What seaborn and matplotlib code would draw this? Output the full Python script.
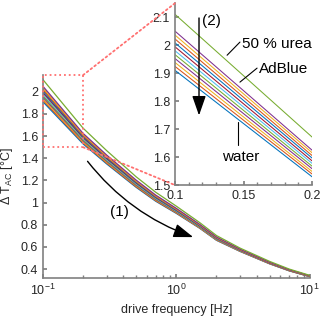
"""
Temperature amplitude vs. drive frequency for water / urea solutions, with zoomed inset.
"""

import pandas as pd
import seaborn as sns
import matplotlib.pyplot as plt
from matplotlib.patches import Rectangle, ConnectionPatch
from matplotlib.ticker import FormatStrFormatter, MultipleLocator

# drive frequencies [Hz]
freqs = [0.1, 0.2, 0.3, 0.5, 0.7, 1.0, 1.5, 2.0, 3.0, 5.0, 7.0, 10.0]

# delta T_AC [degC], one row per solution, water (bottom) first, 50 % urea last
dt_rows = [
    [1.910, 1.530, 1.350, 1.138, 1.013, 0.903, 0.768, 0.660, 0.560, 0.448, 0.385, 0.332],
    [1.924, 1.540, 1.358, 1.144, 1.018, 0.907, 0.771, 0.663, 0.562, 0.449, 0.386, 0.333],
    [1.938, 1.549, 1.366, 1.151, 1.024, 0.912, 0.774, 0.666, 0.564, 0.451, 0.387, 0.334],
    [1.952, 1.559, 1.374, 1.157, 1.029, 0.916, 0.778, 0.669, 0.566, 0.452, 0.388, 0.334],
    [1.966, 1.568, 1.382, 1.164, 1.035, 0.921, 0.781, 0.672, 0.568, 0.454, 0.389, 0.335],
    [1.980, 1.578, 1.390, 1.170, 1.040, 0.925, 0.785, 0.675, 0.570, 0.455, 0.390, 0.336],
    [1.994, 1.587, 1.398, 1.177, 1.046, 0.930, 0.789, 0.678, 0.572, 0.456, 0.391, 0.337],
    [2.008, 1.597, 1.406, 1.183, 1.051, 0.934, 0.792, 0.681, 0.574, 0.458, 0.392, 0.338],
    [2.022, 1.606, 1.414, 1.190, 1.057, 0.939, 0.796, 0.684, 0.576, 0.459, 0.393, 0.338],
    [2.036, 1.616, 1.422, 1.196, 1.062, 0.943, 0.799, 0.687, 0.578, 0.461, 0.394, 0.339],
    [2.050, 1.625, 1.430, 1.203, 1.068, 0.948, 0.803, 0.690, 0.580, 0.462, 0.395, 0.340],
    [2.110, 1.672, 1.470, 1.233, 1.094, 0.968, 0.819, 0.703, 0.590, 0.470, 0.401, 0.344],
]

matlab_colors = ["#0072BD", "#D95319", "#EDB120", "#7E2F8E", "#77AC30", "#4DBEEE", "#A2142F"]

main_yticks = [0.4, 0.6, 0.8, 1.0, 1.2, 1.4, 1.6, 1.8, 2.0]
inset_xticks = [0.1, 0.15, 0.2]
inset_yticks = [1.5, 1.6, 1.7, 1.8, 1.9, 2.0, 2.1]

records = []
for i, row in enumerate(dt_rows):
    for f, v in zip(freqs, row):
        records.append({"line": i, "freq": f, "dT": v})
df = pd.DataFrame(records)
palette = {i: matlab_colors[i % len(matlab_colors)] for i in range(len(dt_rows))}

sns.set_theme(style="ticks")
plt.rcParams["font.family"] = ["Liberation Sans", "DejaVu Sans"]
plt.rcParams["mathtext.fontset"] = "custom"
plt.rcParams["mathtext.rm"] = "Liberation Sans"

spine_col = "#808080"
text_col = "#262626"

fig = plt.figure(figsize=(3.2, 3.17), dpi=100)
ax = fig.add_axes([0.134, 0.123, 0.834, 0.640])
axin = fig.add_axes([0.547, 0.416, 0.428, 0.574])

for a, lw in ((ax, 0.9), (axin, 0.75)):
    sns.lineplot(data=df, x="freq", y="dT", hue="line", palette=palette, legend=False,
                 linewidth=lw, ax=a, estimator=None, sort=False)
    sns.despine(ax=a)
    for s in ("left", "bottom"):
        a.spines[s].set_color(spine_col)
        a.spines[s].set_linewidth(1.2)
    a.tick_params(which="both", direction="in", colors=spine_col, labelcolor=text_col, labelsize=9)
    a.tick_params(which="major", length=3)
    a.tick_params(which="minor", length=2)
    a.set_xlabel("")
    a.set_ylabel("")
    a.set_facecolor("white")

# main axes
ax.set_xscale("log")
ax.set_xlim(0.1, 10)
ax.set_ylim(0.32, 2.15)
ax.set_yticks(main_yticks)
ax.yaxis.set_major_formatter(FormatStrFormatter("%g"))
ax.set_xlabel("drive frequency [Hz]", fontsize=9, color=text_col)
ax.set_ylabel(r"$\Delta$ T$_\mathrm{AC}$ [°C]", fontsize=9, color=text_col)

# inset axes
axin.set_xlim(0.1, 0.2)
axin.set_ylim(1.5, 2.15)
axin.set_xticks(inset_xticks)
axin.set_yticks(inset_yticks)
axin.xaxis.set_minor_locator(MultipleLocator(0.01))
axin.xaxis.set_major_formatter(FormatStrFormatter("%g"))
axin.yaxis.set_major_formatter(FormatStrFormatter("%g"))

# zoom box and connectors
red = "#FF7070"
ax.add_patch(Rectangle((0.1, 1.5), 0.1, 0.65, fill=False, edgecolor=red,
                       linestyle=":", linewidth=1.3, clip_on=False, zorder=5))
for y_main, y_in in ((2.15, 1.0), (1.5, 0.0)):
    con = ConnectionPatch(xyA=(0.2, y_main), coordsA=ax.transData,
                          xyB=(0.0, y_in), coordsB=axin.transAxes,
                          color=red, linestyle=":", linewidth=1.3)
    fig.add_artist(con)

# arrow (1) in main axes
ax.annotate("", xy=(0.573, 0.197), xytext=(0.161, 0.586), xycoords="axes fraction",
            textcoords="axes fraction",
            arrowprops=dict(arrowstyle="-|>,head_length=1.0,head_width=0.35", color="black",
                            linewidth=1.0, connectionstyle="arc3,rad=0.15", mutation_scale=12))
ax.text(0.286, 0.325, "(1)", transform=ax.transAxes, fontsize=11, ha="center", va="center",
        color="black")

# arrow (2) in inset
axin.annotate("", xy=(0.1175, 1.739), xytext=(0.1175, 2.107),
              arrowprops=dict(arrowstyle="-|>,head_length=1.0,head_width=0.35", color="black",
                              linewidth=1.0, mutation_scale=12))
axin.text(0.1265, 2.085, "(2)", fontsize=11, ha="center", va="center", color="black")

# labels with leader lines
axin.plot([0.1380, 0.1474], [1.964, 2.011], color="black", linewidth=0.8)
axin.text(0.1489, 2.004, "50 % urea", fontsize=11, ha="left", va="center", color="black")
axin.plot([0.1474, 0.1599], [1.868, 1.918], color="black", linewidth=0.8)
axin.text(0.1615, 1.914, "AdBlue", fontsize=11, ha="left", va="center", color="black")
axin.plot([0.1460, 0.1460], [1.725, 1.643], color="black", linewidth=0.8)
axin.text(0.1482, 1.600, "water", fontsize=11, ha="center", va="center", color="black")

fig.savefig("out.png", dpi=100)
plt.close(fig)
